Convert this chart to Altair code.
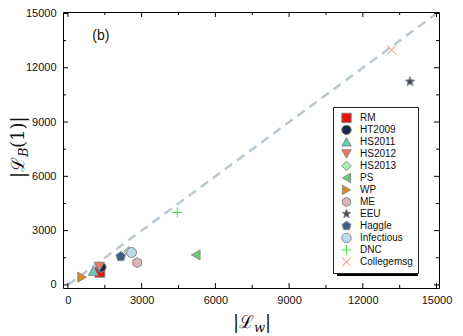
import altair as alt
import pandas as pd

# ---------------- data ----------------
names = ["RM", "HT2009", "HS2011", "HS2012", "HS2013", "PS", "WP", "ME",
         "EEU", "Haggle", "Infectious", "DNC", "Collegemsg"]
lw = [1300, 1350, 1030, 1275, 2480, 5200, 580, 2820, 13920, 2150, 2590, 4450, 13170]
lb = [700, 980, 770, 1010, 1840, 1660, 430, 1230, 11230, 1570, 1790, 4000, 12980]

major_ticks = [0, 3000, 6000, 9000, 12000, 15000]
minor_ticks = [1500, 4500, 7500, 10500, 13500]
diag = [0, 15000]
panel_label = "(b)"
panel_pos = [1343, 13760]

# ---------------- styles ----------------
HEX = "M0,-1L0.866,-0.5L0.866,0.5L0,1L-0.866,0.5L-0.866,-0.5Z"
PENT = "M0,-1L0.951,-0.309L0.588,0.809L-0.588,0.809L-0.951,-0.309Z"
STAR = ("M0,-1L0.247,-0.34L0.951,-0.309L0.399,0.13L0.588,0.809L0,0.42"
        "L-0.588,0.809L-0.399,0.13L-0.951,-0.309L-0.247,-0.34Z")
PLUS = "M-1,0L1,0M0,-1L0,1"
XCROSS = "M-0.9,-0.9L0.9,0.9M-0.9,0.9L0.9,-0.9"

fills = ["#e3110f", "#172a4e", "#5ed0b8", "#f07563", "#a6f2b5", "#6ccb71",
         "#de8a12", "#d5b5b5", "#3c4b5c", "#3e6282", "#b9dcea",
         "transparent", "transparent"]
strokes = ["#8a8a8a"] * 11 + ["#3fe03f", "#f58255"]
shapes = ["square", "circle", "triangle-up", "triangle-down", "diamond",
          "triangle-left", "triangle-right", HEX, STAR, PENT, "circle",
          PLUS, XCROSS]

W, H = 376, 276
FONT = "Liberation Sans"
MATH = "DejaVu Serif"

df = pd.DataFrame({"name": names, "lw": lw, "lb": lb})
xs = alt.Scale(domain=[-200, 15100], nice=False, zero=False)
ys = alt.Scale(domain=[-170, 15080], nice=False, zero=False)

xaxis = alt.Axis(values=major_ticks, ticks=False, tickSize=0, domain=False,
                 grid=False, labelFontSize=11, labelFont=FONT, format="d",
                 labelColor="#111", labelPadding=6, labelFlush=False, title=None)
yaxis = alt.Axis(values=major_ticks, ticks=False, tickSize=0, domain=False,
                 grid=False, labelFontSize=11, labelFont=FONT, format="d",
                 labelColor="#111", labelPadding=7, labelFlush=False, title=None)

line = alt.Chart(pd.DataFrame({"v": diag})).mark_line(
    color="#b9c9d2", strokeWidth=2.5, strokeDash=[9, 6]
).encode(
    x=alt.X("v:Q", scale=xs, axis=xaxis),
    y=alt.Y("v:Q", scale=ys, axis=yaxis),
)

pts = alt.Chart(df).mark_point(opacity=1, size=100, strokeWidth=1).encode(
    x=alt.X("lw:Q", scale=xs),
    y=alt.Y("lb:Q", scale=ys),
    shape=alt.Shape("name:N", scale=alt.Scale(domain=names, range=shapes),
                    legend=alt.Legend(title=None)),
    fill=alt.Fill("name:N", scale=alt.Scale(domain=names, range=fills),
                  legend=alt.Legend(title=None)),
    stroke=alt.Stroke("name:N", scale=alt.Scale(domain=names, range=strokes),
                      legend=alt.Legend(title=None)),
    order=alt.Order("idx:Q"),
).transform_window(idx="row_number()")

maj = pd.DataFrame({"t": major_ticks})
mnr = pd.DataFrame({"t": minor_ticks})


def tick_layers(d, L):
    b = alt.Chart(d).mark_rule(color="black", strokeWidth=1)
    return [
        b.encode(x=alt.X("t:Q", scale=xs), y=alt.value(H), y2=alt.value(H - L)),
        b.encode(x=alt.X("t:Q", scale=xs), y=alt.value(0), y2=alt.value(L)),
        b.encode(y=alt.Y("t:Q", scale=ys), x=alt.value(0), x2=alt.value(L)),
        b.encode(y=alt.Y("t:Q", scale=ys), x=alt.value(W), x2=alt.value(W - L)),
    ]


ticks = tick_layers(maj, 5) + tick_layers(mnr, 3)

plabel = alt.Chart(pd.DataFrame({"x": [panel_pos[0]], "y": [panel_pos[1]],
                                 "t": [panel_label]})).mark_text(
    font=FONT, fontSize=14, color="#111", baseline="middle", align="center"
).encode(x=alt.X("x:Q", scale=xs), y=alt.Y("y:Q", scale=ys), text="t:N")

# legend shadow (decoration)
shadow = alt.Chart(pd.DataFrame({"a": [0]})).mark_rect(color="black").encode(
    x=alt.value(274), x2=alt.value(355), y=alt.value(99), y2=alt.value(264)
)


def txt(s, x, y, size, italic=False, angle=0, baseline="alphabetic"):
    kw = dict(text=s, font=MATH, fontSize=size, color="#111", align="left",
              baseline=baseline, angle=angle)
    if italic:
        kw["fontStyle"] = "italic"
    return alt.Chart(pd.DataFrame({"a": [0]})).mark_text(**kw).encode(
        x=alt.value(x), y=alt.value(y))


# x-axis title |L_w|
xt = [
    txt("|\u2112", 170, 316, 18),
    txt("w", 191, 320, 13, italic=True),
    txt("|", 202, 316, 18),
]
# y-axis title |L_B(1)|
yt = [
    txt("|\u2112", -39, 166, 18, angle=270),
    txt("B", -35, 145, 13, italic=True, angle=270),
    txt("(1)|", -39, 136, 18, angle=270),
]

chart = alt.layer(
    shadow, line, *ticks, pts, plabel, *xt, *yt
).properties(
    width=W, height=H,
    autosize=alt.AutoSizeParams(type="none"),
    padding={"left": 55, "top": 4, "right": 16, "bottom": 48},
).configure_view(
    stroke="black", strokeWidth=1
).configure_legend(
    orient="none", legendX=270, legendY=95, fillColor="white",
    strokeColor="#222", padding=5, symbolSize=90, symbolStrokeWidth=1,
    labelFont=FONT, labelFontSize=10, labelColor="#111",
    rowPadding=0, clipHeight=11.8, labelOffset=8, symbolOffset=3,
)

chart.save("out.html", embed_options={"renderer": "svg", "actions": False})
